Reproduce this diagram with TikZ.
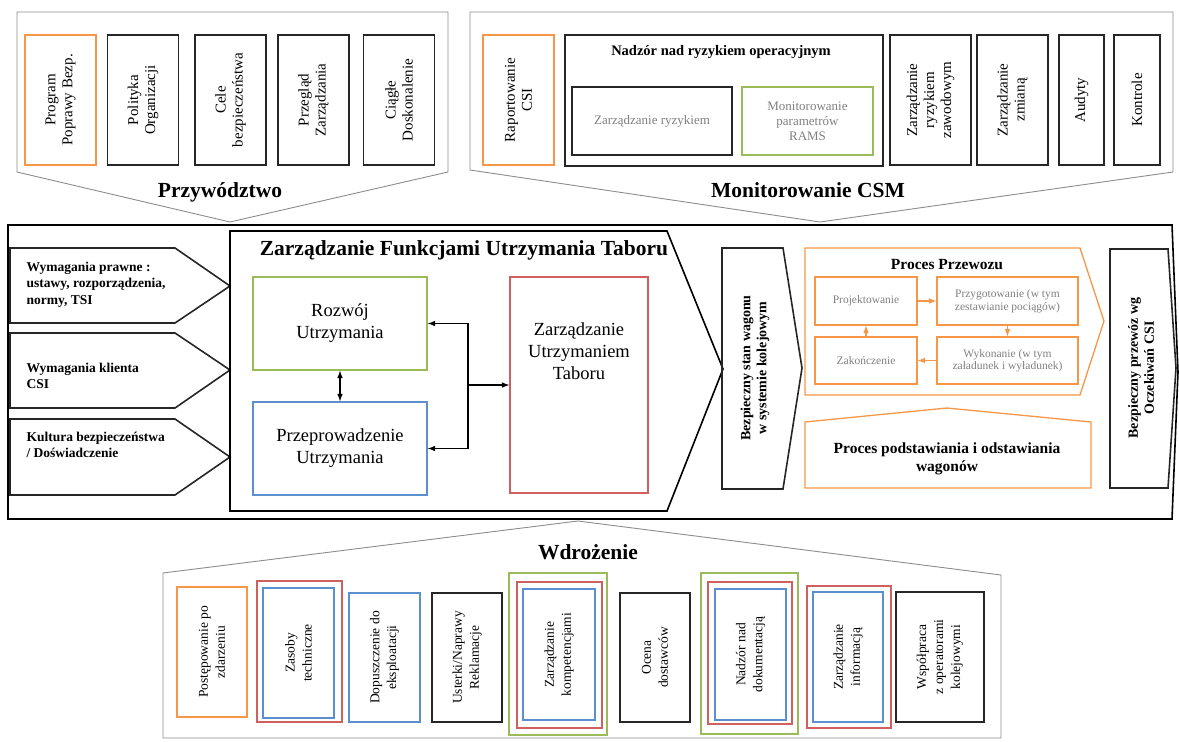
\documentclass[tikz,border=0pt]{standalone}
\usepackage{fontspec}
\setmainfont{Liberation Serif}
\usetikzlibrary{positioning,arrows,shapes,calc}
\definecolor{borange}{HTML}{F79646}
\definecolor{bgreen}{HTML}{9BBB59}
\definecolor{bblue}{HTML}{5B8FD0}
\definecolor{bred}{HTML}{D06060}
\tikzstyle{section}=[draw=black!45,line width=0.9pt]
\tikzstyle{core}=[draw=black,line width=1.6pt]
\tikzstyle{inbox}=[draw=black!85,line width=1.6pt]
\tikzstyle{proc}=[draw=borange,line width=1.3pt]
\tikzstyle{box}=[draw=black!85,line width=1.5pt,align=center,inner sep=1pt]
\tikzstyle{vbox}=[box,rotate=90,font=\fontsize{15}{17}\selectfont]
\tikzstyle{wbox}=[box,rotate=90,font=\fontsize{13.5}{17}\selectfont]
\tikzstyle{mbox}=[box,minimum width=174pt,minimum height=93pt,font=\fontsize{18.5}{22}\selectfont]
\tikzstyle{pbox}=[box,draw=borange,line width=1.3pt,text=black!50,font=\fontsize{11.5}{12.5}\selectfont]
\tikzstyle{sectitle}=[font=\fontsize{21.5}{25}\selectfont\bfseries]
\tikzstyle{intext}=[anchor=west,align=left,font=\fontsize{13.5}{16.5}\selectfont\bfseries]
\tikzstyle{link}=[draw=black,line width=1.5pt]
\tikzstyle{plink}=[draw=borange,line width=1.5pt]

\begin{document}
\begin{tikzpicture}[x=1pt,y=-1pt,>=latex]
  \useasboundingbox (0,0) rectangle (1179,742);

  % Przywodztwo
  \draw[section] (17,12) -- (448,12) -- (448,172) -- (230,222) -- (17,172) -- cycle;
  \node[sectitle] (przyw) at (220,192) {Przywództwo};
  \node[vbox,draw=borange,minimum width=130pt,minimum height=71pt] (program) at (60.5,100) {Program\\Poprawy Bezp.};
  \foreach \pos / \name / \txt in {{(143,100)/polityka/{Polityka\\Organizacji}},
                                   {(230.5,100)/cele/{Cele\\bezpieczeństwa}},
                                   {(313.5,100)/przeglad/{Przegląd\\Zarządzania}},
                                   {(399,100)/ciagle/{Ciągłe\\Doskonalenie}}}
    \node[vbox,minimum width=130pt,minimum height=71pt] (\name) at \pos {\txt};

  % Monitorowanie CSM
  \draw[section] (470,12) -- (1173,12) -- (1173,172) -- (820,222) -- (470,170) -- cycle;
  \node[sectitle] (monit) at (808,190) {Monitorowanie CSM};
  \node[vbox,draw=borange,minimum width=130pt,minimum height=71pt] (raport) at (518.5,100) {Raportowanie\\CSI};
  \node[box,minimum width=318pt,minimum height=131pt] (nadzor) at (724,100.5) {};
  \node[font=\fontsize{14.5}{17}\selectfont\bfseries] (nadzor-t) at (721,52) {Nadzór nad ryzykiem operacyjnym};
  \node[box,minimum width=160pt,minimum height=68pt,text=black!50,font=\fontsize{13}{15}\selectfont] (ryzyko) at (652,121) {Zarządzanie ryzykiem};
  \node[box,draw=bgreen,minimum width=131pt,minimum height=68pt,text=black!50,font=\fontsize{13}{15}\selectfont] (rams) at (807.5,121) {Monitorowanie\\parametrów\\RAMS};
  \foreach \pos / \w / \name / \txt in {{(930.5,100)/81/zawodowe/{Zarządzanie\\ryzykiem\\zawodowym}},
                                        {(1012.5,100)/71/zmiana/{Zarządzanie\\zmianą}},
                                        {(1081.5,100)/45/audyty/{Audyty}},
                                        {(1137,100)/46/kontrole/{Kontrole}}}
    \node[vbox,minimum width=130pt,minimum height=\w pt] (\name) at \pos {\txt};

  % Zarzadzanie - main band
  \draw[core] (8,225) -- (1172,225) -- (1178,372) -- (1172,519) -- (8,519) -- cycle;
  \foreach \top / \tip / \bot in {248/286/323, 333/370/408, 419/457/495}
    \draw[inbox] (10,\top) -- (175,\top) -- (230,\tip) -- (175,\bot) -- (10,\bot) -- cycle;
  \node[intext] (prawne) at (23,284.5) {Wymagania prawne :\\ustawy, rozporządzenia,\\normy, TSI};
  \node[intext] (klient) at (23,376) {Wymagania klienta\\CSI};
  \node[intext] (kultura) at (23,445) {Kultura bezpieczeństwa\\/ Doświadczenie};

  \draw[core] (230,231) -- (667,231) -- (723,369) -- (667,511) -- (230,511) -- cycle;
  \node[sectitle] (zfut) at (464,250) {Zarządzanie Funkcjami Utrzymania Taboru};
  \node[mbox,draw=bgreen] (rozwoj) at (340,323.5) {Rozwój\\Utrzymania};
  \node[mbox,draw=bblue] (przep) at (340,448.5) {Przeprowadzenie\\Utrzymania};
  \node[box,draw=bred,minimum width=138pt,minimum height=216pt] (zut) at (579,385) {};
  \node[align=center,font=\fontsize{18.5}{22}\selectfont] (zut-t) at (579,351) {Zarządzanie\\Utrzymaniem\\Taboru};
  \coordinate (hub) at (468,385);
  \draw[link,<->] (rozwoj) -- (przep);
  \draw[link,->] (hub) |- (rozwoj);
  \draw[link,->] (hub) |- (przep);
  \draw[link,->] (hub) -- (zut);

  % wyjscia
  \draw[inbox] (722,248) -- (783,248) -- (802,368) -- (783,489) -- (722,489) -- cycle;
  \node[rotate=90,align=center,font=\fontsize{14}{16}\selectfont\bfseries] (stan) at (755,368) {Bezpieczny stan wagonu\\w systemie kolejowym};

  \draw[proc] (805,248) -- (1080,248) -- (1104,321) -- (1080,395) -- (805,395) -- cycle;
  \node[font=\fontsize{15.5}{18}\selectfont\bfseries] (przewoz) at (947,265) {Proces Przewozu};
  \node[pbox,minimum width=102pt,minimum height=48pt] (projekt) at (866,301) {Projektowanie};
  \node[pbox,minimum width=141pt,minimum height=48pt] (przygot) at (1007.5,301) {Przygotowanie (w tym\\zestawianie pociągów)};
  \node[pbox,minimum width=102pt,minimum height=47pt] (zakoncz) at (866,360.5) {Zakończenie};
  \node[pbox,minimum width=141pt,minimum height=47pt] (wykon) at (1007.5,360.5) {Wykonanie (w tym\\załadunek i wyładunek)};
  \draw[plink,->] (projekt) -- (przygot);
  \draw[plink,->] (przygot) -- (wykon);
  \draw[plink,->] (wykon) -- (zakoncz);
  \draw[plink,->] (zakoncz) -- (projekt);

  \draw[proc] (805,422) -- (947,408) -- (1091,422) -- (1091,488) -- (805,488) -- cycle;
  \node[align=center,font=\fontsize{15.5}{18}\selectfont\bfseries] (podst) at (947,459) {Proces podstawiania i odstawiania\\wagonów};

  \draw[inbox] (1110,249) -- (1168,249) -- (1176,368) -- (1168,488) -- (1110,488) -- cycle;
  \node[rotate=90,align=center,font=\fontsize{14}{16}\selectfont\bfseries] (csi) at (1141,368) {Bezpieczny przewóz wg\\Oczekiwań CSI};

  % Wdrozenie
  \draw[section] (163,573) -- (578,521) -- (1001,575) -- (1001,738) -- (163,738) -- cycle;
  \node[sectitle] (wdroz) at (588,552) {Wdrożenie};
  \node[wbox,draw=borange,minimum width=130pt,minimum height=70pt] (postep) at (212,652) {Postępowanie po\\zdarzeniu};
  \node[box,draw=bred,rotate=90,minimum width=141pt,minimum height=85pt] (zasoby-r) at (299.5,651.5) {};
  \node[wbox,draw=bblue,minimum width=130pt,minimum height=71pt] (zasoby) at (298.5,653) {Zasoby\\techniczne};
  \node[wbox,draw=bblue,minimum width=129pt,minimum height=71pt] (dopusz) at (384.5,657.5) {Dopuszczenie do\\eksploatacji};
  \node[wbox,minimum width=129pt,minimum height=70pt] (usterki) at (467,657.5) {Usterki/Naprawy\\Reklamacje};
  \node[box,draw=bgreen,rotate=90,minimum width=162pt,minimum height=98pt] (kompet-g) at (558,654) {};
  \node[box,draw=bred,rotate=90,minimum width=146pt,minimum height=85pt] (kompet-r) at (559.5,655) {};
  \node[wbox,draw=bblue,minimum width=131pt,minimum height=72pt] (kompet) at (559,654.5) {Zarządzanie\\kompetencjami};
  \node[wbox,minimum width=129pt,minimum height=70pt] (ocena) at (655,657.5) {Ocena\\dostawców};
  \node[box,draw=bgreen,rotate=90,minimum width=161pt,minimum height=97pt] (dokum-g) at (749.5,653.5) {};
  \node[box,draw=bred,rotate=90,minimum width=142pt,minimum height=84pt] (dokum-r) at (750,653) {};
  \node[wbox,draw=bblue,minimum width=131pt,minimum height=71pt] (dokum) at (750.5,654.5) {Nadzór nad\\dokumentacją};
  \node[box,draw=bred,rotate=90,minimum width=142pt,minimum height=84pt] (inform-r) at (849,657) {};
  \node[wbox,draw=bblue,minimum width=130pt,minimum height=70pt] (inform) at (848,657) {Zarządzanie\\informacją};
  \node[wbox,minimum width=130pt,minimum height=88pt] (wspol) at (940,657) {Współpraca\\z operatorami\\kolejowymi};
\end{tikzpicture}
\end{document}
